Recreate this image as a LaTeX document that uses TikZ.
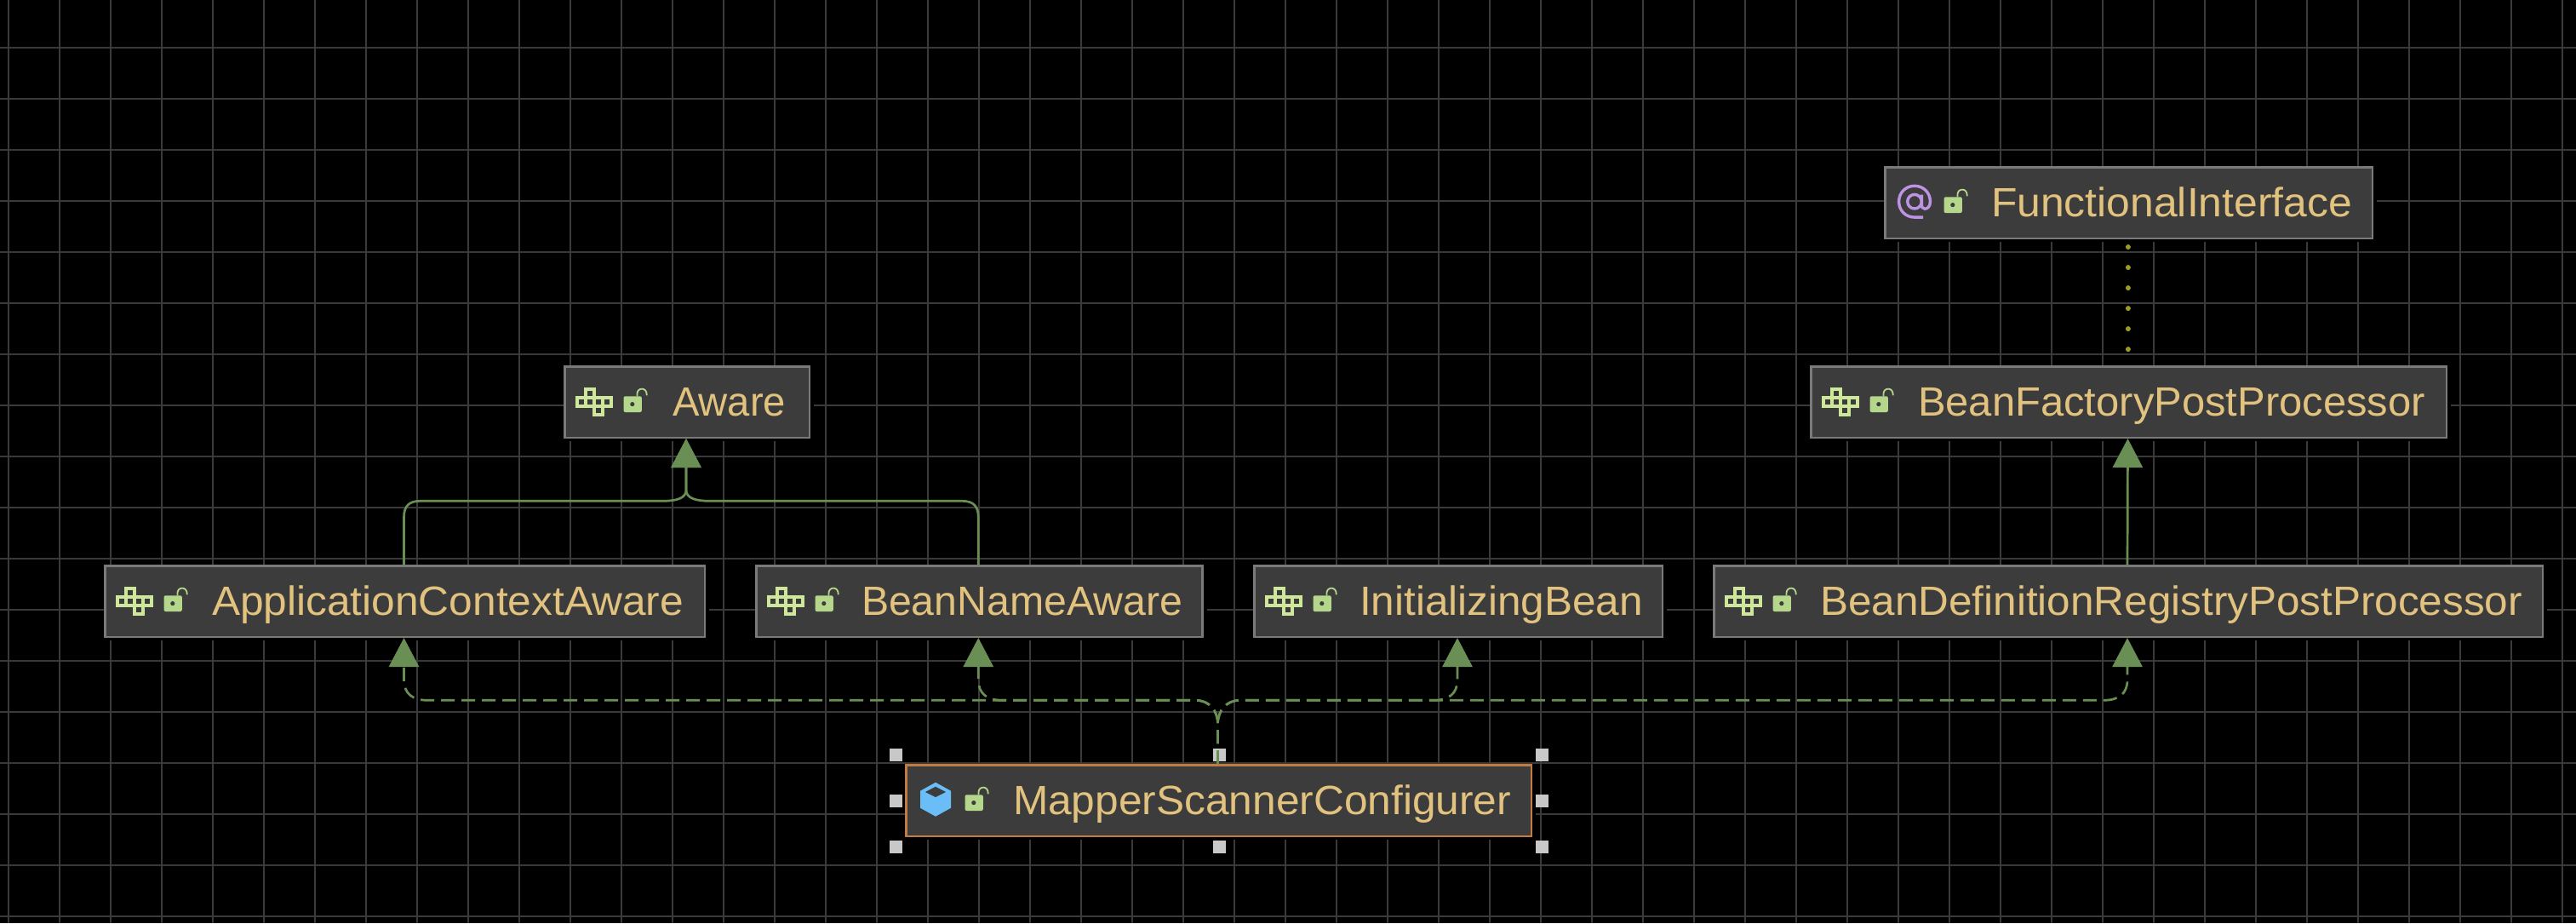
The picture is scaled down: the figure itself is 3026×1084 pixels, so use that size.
\documentclass[tikz,border=0pt]{standalone}
\usepackage{fontspec}
\usepackage{graphicx}
\setmainfont{Liberation Sans}
\usetikzlibrary{arrows.meta,calc}
\definecolor{gridc}{HTML}{3A3A3A}
\definecolor{boxfill}{HTML}{3C3C3C}
\definecolor{boxline}{HTML}{7A7A7A}
\definecolor{selline}{HTML}{C27C42}
\definecolor{labelc}{HTML}{E2C27F}
\definecolor{linkc}{HTML}{6A8F55}
\definecolor{dotc}{HTML}{9C9C20}
\definecolor{ifacec}{HTML}{CFE79B}
\definecolor{lockc}{HTML}{B5D78B}
\definecolor{atc}{HTML}{BF93E4}
\definecolor{cubec}{HTML}{6BBDF7}
\definecolor{handlec}{HTML}{C8C8C8}
\tikzset{
  umlbox/.style={draw=boxline,fill=boxfill,line width=1.25pt,rectangle,inner sep=0pt},
  selbox/.style={umlbox,draw=selline},
  umllabel/.style={anchor=base west,inner sep=0pt,outer sep=0pt,text=labelc,font=\fontsize{24}{28}\selectfont},
  implements/.style={draw=linkc,line width=1.35pt,-{Triangle[length=17pt,width=17.5pt,fill=linkc]}},
  realizes/.style={implements,dash pattern=on 8pt off 4pt},
  annot/.style={draw=dotc,line width=3pt,line cap=round,dash pattern=on 0.01pt off 12pt,dash phase=7.5pt},
  handle/.style={fill=handlec,draw=none,rectangle,minimum size=7.5pt,inner sep=0pt}
}
\newcommand{\lockicon}[2]{%
  \begin{scope}[shift={(#1+70.5,#2+36.3)}]
    \fill[lockc,rounded corners=1pt] (0,0) rectangle (21.3,18.7);
    \fill[boxfill] (10.3,9.3) circle[radius=2.6];
    \draw[lockc,line width=0.9pt] (16,0) -- (16,-3) .. controls (16,-6.5) and (18.5,-8.7) .. (21.7,-8.7) .. controls (25,-8.7) and (27.3,-6) .. (27.3,-1);
  \end{scope}}
\newcommand{\ifaceicon}[2]{%
  \begin{scope}[shift={(#1+14.3,#2+26.3)}]
    \foreach \c/\r in {0/1,1/1,2/1,3/1,1/0,2/2}
      \draw[ifacec,line width=1.65pt] ({10*\c+1.65},{10*\r+1.65}) rectangle ({10*\c+11.65},{10*\r+11.65});
  \end{scope}}
\newcommand{\aticon}[2]{%
  \begin{scope}[shift={(#1+36,#2+41.7)}]
    \draw[atc,line width=1.7pt] (0,0) circle[radius=8.3];
    \draw[atc,line width=1.7pt] (10,18.4) -- (0,18.4) .. controls (-10.5,18.4) and (-18.4,10.5) .. (-18.4,0) .. controls (-18.4,-10.5) and (-10.5,-18.4) .. (0,-18.4) .. controls (10.5,-18.4) and (18.4,-10.5) .. (18.4,0) .. controls (18.4,6) and (15,8.5) .. (12,8.5) .. controls (9.5,8.5) and (8.3,6.5) .. (8.3,3) -- (8.3,-8);
  \end{scope}}
\newcommand{\cubeicon}[2]{%
  \begin{scope}[shift={(#1+18,#2+21.7)}]
    \fill[cubec] (18,0) -- (36,10) -- (36,30) -- (18,40) -- (0,30) -- (0,10) -- cycle;
    \fill[boxfill] (18,5) -- (30,11.3) -- (18,17.3) -- (6,11.3) -- cycle;
  \end{scope}}
% name, x0, y0, x1, y1, style
\newcommand{\placebox}[6]{%
  \fill[black] (#2+4,#3+4) rectangle (#4+4,#5+3);
  \node[#6,minimum width={(#4-#2-2.5)*0.5pt},minimum height={(#5-#3-2.5)*0.5pt}] (#1) at ({(#2+#4)/2},{(#3+#5)/2}) {};
  \coordinate (#1-n) at ([xshift=-0.5pt]#1.north);
  \coordinate (#1-s) at ([xshift=-0.5pt]#1.south);}
% name, x, baseline, target width px, text
\newcommand{\placelabel}[5]{%
  \node[umllabel] (#1) at (#2,#3) {\resizebox{\dimexpr #4pt/2\relax}{\height}{#5}};}
% target node, sign
\newcommand{\dashedlink}[2]{%
  \draw[realizes] (m-n) -- ($(m-n |- bus)+(0,28)$)
    .. controls ($(m-n |- bus)+(0,12)$) and ($(m-n |- bus)+(#2*10,0)$) .. ($(m-n |- bus)+(#2*26,0)$)
    -- ($(#1-s |- bus)+(-#2*28,0)$)
    .. controls ($(#1-s |- bus)+(-#2*10,0)$) and ($(#1-s |- bus)+(0,-8)$) .. ($(#1-s |- bus)+(0,-24)$)
    -- (#1-s);}
\newcommand{\solidlink}[2]{%
  \draw[implements] (#1-n) -- ($(#1-n |- upper)+(0,19)$)
    .. controls ($(#1-n |- upper)+(0,6)$) and ($(#1-n |- upper)+(#2*6,0)$) .. ($(#1-n |- upper)+(#2*19,0)$)
    -- ($(a-s |- upper)+(-#2*28,0)$)
    .. controls ($(a-s |- upper)+(-#2*12,0)$) and ($(a-s |- upper)+(0,-3)$) .. ($(a-s |- upper)+(0,-13)$)
    -- (a-s);}
\begin{document}
\begin{tikzpicture}[x=0.5pt,y=-0.5pt]
\useasboundingbox (0,0) rectangle (3026,1084);
\fill[black] (0,0) rectangle (3026,1084);
\foreach \k in {0,...,50} \draw[gridc,line width=1pt] ({10+60*\k},0) -- ({10+60*\k},1084);
\foreach \k in {0,...,17} \draw[gridc,line width=1pt] (0,{56+60*\k}) -- (3026,{56+60*\k});

\coordinate (bus) at (0,822.3);
\coordinate (upper) at (0,588.3);

\placebox{fi}{2213}{195}{2788}{281}{umlbox}
\placebox{bf}{2126}{429}{2875}{515}{umlbox}
\placebox{a}{662}{429}{952}{515}{umlbox}
\placebox{ac}{122}{663}{829}{749}{umlbox}
\placebox{bn}{887}{663}{1413.5}{749}{umlbox}
\placebox{ib}{1472}{663}{1954}{749}{umlbox}
\placebox{bd}{2012}{663}{2988}{749}{umlbox}

\foreach \hx/\hy/\hn in {1052.3/886.7/h1,1432/886.7/h2,1811.5/886.7/h3,1052.3/940.5/h4,1811.5/940.5/h5,1052.3/994.5/h6,1432/994.5/h7,1811.5/994.5/h8}
  \node[handle] (\hn) at (\hx,\hy) {};

\placebox{m}{1063}{897}{1800}{983}{selbox}

\ifaceicon{2126}{429}\lockicon{2126}{429}
\ifaceicon{662}{429}\lockicon{662}{429}
\ifaceicon{122}{663}\lockicon{122}{663}
\ifaceicon{887}{663}\lockicon{887}{663}
\ifaceicon{1472}{663}\lockicon{1472}{663}
\ifaceicon{2012}{663}\lockicon{2012}{663}
\aticon{2213}{195}\lockicon{2213}{195}
\cubeicon{1063}{897}\lockicon{1063}{897}

\placelabel{tfi}{2339}{254}{424}{FunctionalInterface}
\placelabel{tbf}{2253}{488}{596}{BeanFactoryPostProcessor}
\placelabel{ta}{790}{488.5}{133}{Aware}
\placelabel{tac}{249}{722}{554}{ApplicationContextAware}
\placelabel{tbn}{1012}{722}{377}{BeanNameAware}
\placelabel{tib}{1597}{722}{333}{InitializingBean}
\placelabel{tbd}{2138}{722}{825}{BeanDefinitionRegistryPostProcessor}
\placelabel{tm}{1190}{956.7}{585}{MapperScannerConfigurer}

\draw[annot] (fi-s) -- (bf-n);
\draw[implements] (bd-n) -- (bf-s);
\solidlink{ac}{1}
\solidlink{bn}{-1}
\dashedlink{ac}{-1}
\dashedlink{bn}{-1}
\dashedlink{ib}{1}
\dashedlink{bd}{1}
\end{tikzpicture}
\end{document}
